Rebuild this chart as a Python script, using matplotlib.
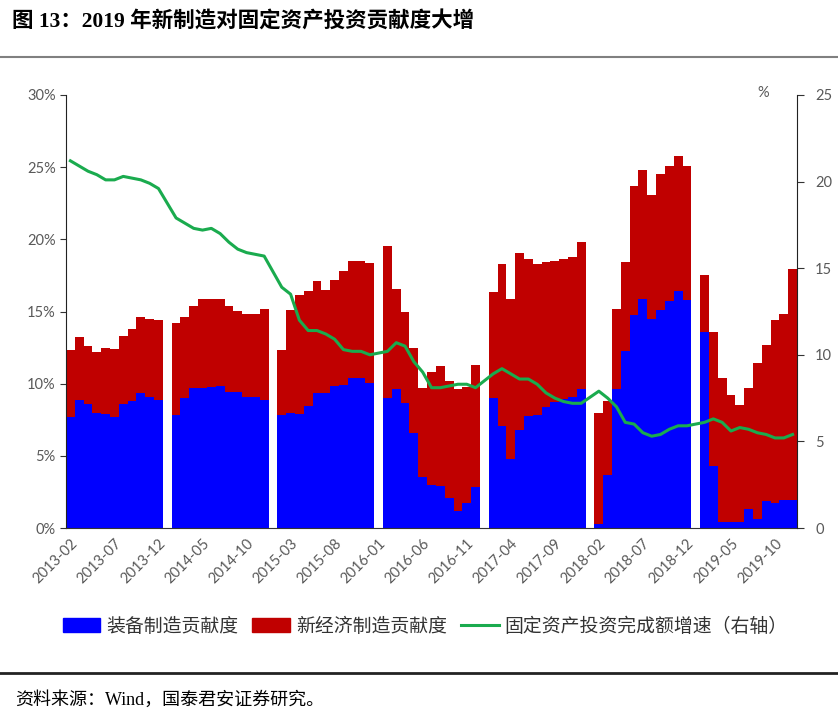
import numpy as np
import pandas as pd
import matplotlib
matplotlib.use('Agg')
import matplotlib.pyplot as plt
from matplotlib.patches import Patch
from matplotlib.lines import Line2D

# monthly slots 2013-02 .. 2019-12, January has no data (gap in the bars)
slots = pd.period_range('2013-02', '2019-12', freq='M')
slot_labels = [p.strftime('%Y-%m') for p in slots]
months = [p for p in slots if p.month != 1]

# 装备制造贡献度 (%)
equip = [7.7, 8.9, 8.6, 8.0, 7.9, 7.7, 8.6, 8.8, 9.35, 9.05, 8.9,
         7.85, 9.0, 9.7, 9.7, 9.8, 9.85, 9.4, 9.45, 9.05, 9.05, 8.9,
         7.8, 7.95, 7.9, 8.45, 9.35, 9.35, 9.85, 9.9, 10.4, 10.4, 10.05,
         9.0, 9.6, 8.65, 6.6, 3.5, 3.0, 2.9, 2.1, 1.15, 1.7, 2.85,
         9.0, 7.05, 4.8, 6.8, 7.75, 7.8, 8.4, 8.7, 8.95, 9.1, 9.6,
         0.25, 3.65, 9.6, 12.25, 14.75, 15.9, 14.45, 15.1, 15.7, 16.4, 15.8,
         13.6, 4.3, 0.4, 0.45, 0.4, 1.35, 0.6, 1.85, 1.75, 1.95, 1.95]

# 新经济制造贡献度 (%)
new_econ = [4.6, 4.3, 4.0, 4.2, 4.6, 4.7, 4.7, 5.0, 5.3, 5.45, 5.5,
            6.35, 5.65, 5.7, 6.15, 6.05, 6.05, 5.95, 5.6, 5.75, 5.75, 6.3,
            4.55, 7.15, 8.25, 7.95, 7.75, 7.15, 7.35, 7.9, 8.1, 8.1, 8.3,
            10.55, 6.95, 6.35, 5.9, 6.2, 7.8, 8.35, 8.1, 8.45, 8.1, 8.45,
            7.35, 11.25, 11.1, 12.25, 10.9, 10.5, 10.05, 9.8, 9.7, 9.7, 10.2,
            7.75, 5.15, 5.6, 6.2, 8.95, 8.9, 8.65, 9.4, 9.4, 9.4, 9.25,
            3.9, 9.3, 10.0, 8.75, 8.15, 8.35, 10.8, 10.8, 12.65, 12.85, 16.0]

# 固定资产投资完成额累计增速 (%, right axis)
fai_growth = [21.2, 20.9, 20.6, 20.4, 20.1, 20.1, 20.3, 20.2, 20.1, 19.9, 19.6,
              17.9, 17.6, 17.3, 17.2, 17.3, 17.0, 16.5, 16.1, 15.9, 15.8, 15.7,
              13.9, 13.5, 12.0, 11.4, 11.4, 11.2, 10.9, 10.3, 10.2, 10.2, 10.0,
              10.2, 10.7, 10.5, 9.6, 9.0, 8.1, 8.1, 8.2, 8.3, 8.3, 8.1,
              8.9, 9.2, 8.9, 8.6, 8.6, 8.3, 7.8, 7.5, 7.3, 7.2, 7.2,
              7.9, 7.5, 7.0, 6.1, 6.0, 5.5, 5.3, 5.4, 5.7, 5.9, 5.9,
              6.1, 6.3, 6.1, 5.6, 5.8, 5.7, 5.5, 5.4, 5.2, 5.2, 5.4]

x = np.array([(p.year - 2013) * 12 + p.month - 2 for p in months])

cjk = ['Noto Sans CJK SC', 'DejaVu Sans']
serif_cjk = ['Liberation Serif', 'Noto Sans CJK SC']
blue, red, green = '#0000FF', '#C00000', '#1AAB4E'
gray = '#595959'

fig = plt.figure(figsize=(8.38, 7.26), dpi=100)
ax = fig.add_axes([66 / 838, 1 - 528 / 726, 731 / 838, 433 / 726])

ax.bar(x, equip, width=1.0, color=blue, linewidth=0)
ax.bar(x, new_econ, width=1.0, bottom=equip, color=red, linewidth=0)
ax.set_xlim(-0.5, len(slots) - 0.5)
ax.set_ylim(0, 30)
ax.set_yticks(np.arange(0, 31, 5))
ax.set_yticklabels([f'{v}%' for v in range(0, 31, 5)])
ax.set_xticks(np.arange(0, len(slots), 5))
ax.set_xticklabels(slot_labels[::5], rotation=45, ha='right', rotation_mode='anchor')
ax.tick_params(axis='x', length=0, pad=6, labelsize=10.5, labelcolor=gray)
ax.tick_params(axis='y', direction='out', length=4, labelsize=10.5, labelcolor=gray, color='#333333')
for lab in ax.get_xticklabels() + ax.get_yticklabels():
    lab.set_fontfamily('Lato')
ax.spines['top'].set_visible(False)
ax.spines['right'].set_visible(False)
ax.spines['left'].set_color('#222222')
ax.spines['bottom'].set_color('#333333')

ax2 = ax.twinx()
ax2.plot(x, fai_growth, color=green, lw=2.2)
ax2.set_ylim(0, 25)
ax2.set_yticks(np.arange(0, 26, 5))
ax2.tick_params(axis='y', direction='out', length=5, labelsize=10.5, labelcolor=gray, pad=8, color='#333333')
for lab in ax2.get_yticklabels():
    lab.set_fontfamily('Lato')
for s in ['top', 'left', 'bottom']:
    ax2.spines[s].set_visible(False)
ax2.spines['right'].set_color('#222222')

fig.text(763 / 838, 1 - 93 / 726, '%', fontsize=10.5, color=gray, family='Lato', ha='center', va='center')

handles = [Patch(color=blue), Patch(color=red), Line2D([], [], color=green, lw=2.2)]
labels = ['装备制造贡献度', '新经济制造贡献度', '固定资产投资完成额增速（右轴）']
fig.legend(handles, labels, loc='center', bbox_to_anchor=(425 / 838, 1 - 626 / 726), ncol=3,
           frameon=False, prop={'family': cjk, 'size': 13.6}, handlelength=2.0, handleheight=0.75,
           handletextpad=0.3, columnspacing=0.75, labelcolor='#333333')

fig.text(12 / 838, 1 - 22 / 726, '图 13：2019 年新制造对固定资产投资贡献度大增', fontsize=15.5,
         fontweight='bold', family=serif_cjk, ha='left', va='center')
fig.add_artist(Line2D([0, 1], [1 - 57 / 726, 1 - 57 / 726], color='#808080', lw=1.5))
fig.add_artist(Line2D([0, 1], [1 - 673 / 726, 1 - 673 / 726], color='#222222', lw=2))
fig.text(15 / 838, 1 - 700 / 726, '资料来源：Wind，国泰君安证券研究。', fontsize=13,
         family=serif_cjk, ha='left', va='center')

fig.savefig('out.png', dpi=100)
